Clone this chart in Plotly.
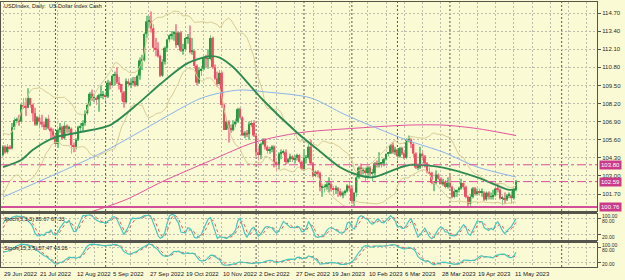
import numpy as np
import pandas as pd
import plotly.graph_objects as go

W, H = 625, 280

# ---------------- data ----------------
date_labels = ["29 Jun 2022", "21 Jul 2022", "12 Aug 2022", "5 Sep 2022", "27 Sep 2022",
               "19 Oct 2022", "10 Nov 2022", "2 Dec 2022", "27 Dec 2022", "19 Jan 2023",
               "10 Feb 2023", "6 Mar 2023", "28 Mar 2023", "19 Apr 2023", "11 May 2023"]
date_label_bars = [0, 16, 32, 48, 64, 80, 96, 112, 128, 144, 160, 176, 192, 208, 224]

# twenty daily bars before the first visible one (needed only by the indicators)
prior_high = [102.7,102.7,102.3,102.5,102.7,102.6,103.3,104.3,105.3,105.8,
              105.6,105.0,104.8,104.8,104.6,104.9,104.6,104.5,104.3,104.6]
prior_low = [101.6,101.7,101.6,101.9,102.1,102.1,102.3,103.1,104.1,104.9,
             104.4,103.4,103.5,104.3,104.0,104.0,103.9,103.9,103.7,103.8]
prior_close = [102.6,101.8,102.1,102.4,102.3,102.5,103.2,104.2,105.1,105.5,
               105.0,103.5,104.7,104.4,104.4,104.2,104.4,104.2,103.9,104.5]

open_ = [104.5,105.1,104.7,105.1,105.0,106.5,107.0,107.0,106.9,108.1,
         108.0,107.9,108.6,108.1,107.5,106.7,107.2,106.9,106.7,106.5,
         107.1,106.4,106.2,105.9,105.3,106.3,106.5,105.7,106.6,106.4,
         106.4,105.2,105.1,105.6,106.5,106.6,106.8,107.5,108.1,108.9,
         108.6,108.6,108.5,108.8,108.8,108.8,108.7,109.7,109.5,110.2,
         110.3,109.7,109.6,109.0,108.3,109.8,109.6,109.7,109.8,109.5,
         110.2,111.3,111.3,113.2,114.1,114.1,113.6,112.2,112.1,111.6,
         110.2,111.2,112.2,112.8,113.1,113.2,113.3,112.4,113.3,112.0,
         112.1,112.9,112.9,111.9,112.0,110.9,109.7,110.6,110.7,111.5,
         111.4,111.4,112.9,110.8,110.0,109.6,110.4,108.1,106.3,106.9,
         106.4,106.3,106.7,106.9,107.8,107.2,105.9,106.1,106.0,106.7,
         106.8,105.9,104.7,104.5,105.3,105.6,105.1,104.8,104.9,105.1,
         104.0,103.8,104.6,104.7,104.7,104.0,104.2,104.4,104.2,104.3,
         104.5,104.0,103.5,104.3,104.3,105.1,103.9,103.0,103.3,103.2,
         102.2,102.2,102.2,102.4,102.4,102.1,102.0,102.1,101.9,101.6,
         101.8,101.9,102.3,102.1,101.2,101.8,102.9,103.6,103.4,103.4,
         103.2,103.6,103.2,103.2,103.9,103.8,103.9,103.9,104.2,104.6,
         104.6,105.2,104.7,104.9,104.4,105.0,104.6,104.3,105.6,105.6,
         105.3,104.6,103.6,103.6,104.6,104.4,103.9,103.3,103.2,102.5,
         102.5,103.1,102.8,102.4,102.6,102.2,102.5,102.2,101.5,101.9,
         102.0,102.1,102.5,102.2,101.5,101.0,101.5,102.1,101.7,101.9,
         101.8,101.8,101.3,101.8,101.5,101.5,101.6,102.1,102.0,101.4,
         101.4,101.3,101.6,101.6,101.4,102.0]
high_ = [105.2,105.2,105.3,105.2,106.8,107.2,107.2,107.4,108.2,108.6,
         108.6,109.3,108.6,108.2,107.9,107.3,107.4,107.4,106.9,107.2,
         107.4,106.5,106.4,106.0,106.4,106.8,106.6,106.9,106.7,106.6,
         106.5,105.4,105.7,106.6,106.8,107.0,107.7,108.2,109.0,109.2,
         108.9,108.7,108.9,109.5,109.1,109.0,109.9,109.8,110.3,110.5,
         110.8,110.1,109.6,109.1,110.0,110.0,110.0,110.1,110.1,110.3,
         111.5,111.7,113.3,114.5,114.5,114.8,113.9,112.9,112.6,111.7,
         111.4,112.3,112.8,113.2,113.4,113.4,113.9,113.4,113.4,112.5,
         113.0,113.2,113.8,112.9,112.0,111.0,110.8,110.9,111.6,111.7,
         112.1,113.1,113.0,111.0,110.5,110.6,110.5,108.2,107.2,107.0,
         106.7,107.0,107.1,107.9,107.9,107.3,106.2,106.3,106.9,107.0,
         107.0,105.9,105.0,105.4,105.7,105.7,105.2,105.1,105.2,105.2,
         104.1,104.7,104.9,104.9,104.9,104.3,104.6,104.5,104.5,104.6,
         104.6,104.1,104.9,104.5,105.4,105.6,104.0,103.4,103.4,103.3,
         102.4,102.4,102.6,102.9,102.6,102.3,102.3,102.2,102.1,101.9,
         102.0,102.4,102.6,102.2,101.8,103.0,103.7,103.9,103.6,103.6,
         103.7,103.7,103.5,104.0,104.1,104.7,104.0,104.3,104.6,104.7,
         105.3,105.4,105.1,105.0,105.1,105.1,104.7,105.7,105.9,105.7,
         105.4,104.7,103.9,105.1,104.8,104.5,104.0,103.6,103.3,102.6,
         103.4,103.2,102.9,102.8,102.7,102.9,103.1,102.3,102.1,102.0,
         102.2,102.8,102.5,102.3,101.6,101.7,102.2,102.2,102.1,102.1,
         102.1,101.9,101.9,101.9,101.8,102.0,102.2,102.4,102.1,101.6,
         101.8,101.7,101.8,101.9,102.1,102.7]
low_ = [104.4,104.6,104.6,104.9,104.9,106.3,106.8,106.6,106.9,107.8,
        107.3,107.9,107.9,106.9,106.6,106.6,106.4,106.5,106.3,106.3,
        106.3,105.6,105.6,105.1,105.0,106.1,105.6,105.6,106.1,106.1,
        104.6,104.7,104.9,105.5,106.2,106.2,106.6,107.4,108.0,108.4,
        108.3,108.1,107.6,108.6,108.5,108.4,108.6,109.2,109.5,109.5,
        109.6,109.2,108.4,107.9,108.2,109.4,109.3,109.5,109.4,109.4,
        109.9,110.6,111.2,112.9,113.6,113.3,111.9,111.6,111.5,110.1,
        110.1,111.0,111.9,112.6,112.8,112.7,112.2,112.3,111.9,111.7,
        111.9,112.5,111.8,111.7,110.7,109.5,109.6,110.2,110.6,110.8,
        110.7,111.3,110.7,109.9,109.4,109.5,107.9,106.3,106.3,105.4,
        106.1,106.2,106.5,106.8,107.1,105.9,105.7,105.8,105.6,106.5,
        105.8,104.4,104.1,104.2,105.2,104.9,104.6,104.6,104.7,103.6,
        103.4,103.5,104.2,104.5,103.8,103.9,104.0,104.0,103.9,104.1,
        103.9,103.4,103.5,103.9,104.2,103.8,102.9,102.9,102.9,101.9,
        101.5,101.8,102.0,101.8,101.9,101.6,101.7,101.5,101.5,101.4,
        101.6,101.8,101.9,101.0,100.8,101.5,102.8,103.0,103.1,102.6,
        102.9,103.0,102.6,102.9,103.6,103.6,103.6,103.7,104.1,104.4,
        104.6,104.6,104.5,104.1,104.3,104.5,104.2,104.2,105.4,105.0,
        104.3,103.5,103.4,103.5,104.1,103.6,103.2,103.1,102.4,101.9,
        102.4,102.7,102.4,102.3,102.1,102.1,102.1,101.4,101.4,101.5,
        101.8,102.0,102.0,101.4,100.8,100.8,101.4,101.6,101.6,101.6,
        101.5,101.2,101.2,101.3,101.3,101.3,101.5,101.8,101.3,100.9,
        101.0,101.2,101.4,101.0,101.3,101.9]
close_ = [105.1,104.7,105.1,105.0,106.5,107.0,107.0,106.9,108.1,108.0,
          107.9,108.6,108.1,107.5,106.7,107.2,106.9,106.7,106.5,107.1,
          106.4,106.2,105.9,105.3,106.3,106.5,105.7,106.6,106.4,106.4,
          105.2,105.1,105.6,106.5,106.6,106.8,107.5,108.1,108.9,108.6,
          108.6,108.5,108.8,108.8,108.8,108.7,109.7,109.5,110.2,110.3,
          109.7,109.6,109.0,108.3,109.8,109.6,109.7,109.8,109.5,110.2,
          111.3,111.3,113.2,114.1,114.1,113.6,112.2,112.1,111.6,110.2,
          111.2,112.2,112.8,113.1,113.2,113.3,112.4,113.3,112.0,112.1,
          112.9,112.9,111.9,112.0,110.9,109.7,110.6,110.7,111.5,111.4,
          111.4,112.9,110.8,110.0,109.6,110.4,108.1,106.3,106.9,106.4,
          106.3,106.7,106.9,107.8,107.2,105.9,106.1,106.0,106.7,106.8,
          105.9,104.7,104.5,105.3,105.6,105.1,104.8,104.9,105.1,104.0,
          103.8,104.6,104.7,104.7,104.0,104.2,104.4,104.2,104.3,104.5,
          104.0,103.5,104.3,104.3,105.1,103.9,103.0,103.3,103.2,102.2,
          102.2,102.2,102.4,102.4,102.1,102.0,102.1,101.9,101.6,101.8,
          101.9,102.3,102.1,101.2,101.8,102.9,103.6,103.4,103.4,103.2,
          103.6,103.2,103.2,103.9,103.8,103.9,103.9,104.2,104.6,104.6,
          105.2,104.7,104.9,104.4,105.0,104.6,104.3,105.6,105.6,105.3,
          104.6,103.6,103.6,104.6,104.4,103.9,103.3,103.2,102.5,102.5,
          103.1,102.8,102.4,102.6,102.2,102.5,102.2,101.5,101.9,102.0,
          102.1,102.5,102.2,101.5,101.0,101.5,102.1,101.7,101.9,101.8,
          101.8,101.3,101.8,101.5,101.5,101.6,102.1,102.0,101.4,101.4,
          101.3,101.6,101.6,101.4,102.0,102.59]

# moving averages (bar index, value)
ma50_bars = [0, 8, 13, 22, 34, 47, 60, 69, 81, 91, 95, 101, 114, 129, 138, 148, 155, 162, 174, 179, 193, 208, 222, 225]
ma50_vals = [103.64, 104.14, 104.86, 105.72, 106.15, 106.65, 108.3, 109.6, 111.1, 111.6, 111.5, 110.8,
             108.45, 106.1, 104.9, 103.6, 103.1, 102.9, 103.6, 103.8, 103.6, 102.9, 102.0, 102.05]
ma100_bars = [0, 43, 86, 95, 104, 116, 135, 150, 177, 193, 208, 225]
ma100_vals = [101.48, 104.64, 108.52, 108.95, 109.17, 109.02, 108.6, 107.4, 105.58, 104.71, 103.64, 102.92]
ma200_bars = [36, 42, 54, 70, 91, 110, 130, 152, 178, 193, 208, 225]
ma200_vals = [100.3, 100.6, 101.3, 102.6, 104.1, 105.4, 106.1, 106.4, 106.65, 106.65, 106.4, 105.9]

y_ticks = [101.70, 103.00, 104.30, 105.60, 106.90, 108.20, 109.50, 110.80, 112.10, 113.40, 114.70]
level_prices = [103.80, 102.59]
support_price = 100.76
stoch1_text = "Stoch(5,3,3) 85.67 67.33"
stoch2_text = "Stoch(15,3,5) 57.47 43.26"
title_text = "USDIndex, Daily:  US Dollar Index Cash"
month_sep_bars = [23, 45, 111, 132, 153, 173, 196, 245]

# ---------------- styling ----------------
BG = "#FAFAD4"
GRID = "#BDBDAE"
AXC = "#55554A"
BULL = "#2A9A40"
BEAR = "#EE4E62"
BULL_W = "#7CC987"
BEAR_W = "#F2909C"
PINK = "#DC4C9C"
FONT = "Liberation Sans"
GDASH = "2px,2px"

o = np.array(open_); h = np.array(high_); l = np.array(low_); c = np.array(close_)
n = len(c)
idx = np.arange(n)
bull = c >= o
npre = len(prior_close)
h_all = pd.Series(prior_high + high_)
l_all = pd.Series(prior_low + low_)
c_all = pd.Series(prior_close + close_)

def py(px):
    return 1 - px / H

XD = [1 / W, 597 / W]
XR = [-0.88, 260.5]

fig = go.Figure()

# Bollinger bands (20, 2) from the closes
mid = c_all.rolling(20, min_periods=1).mean()
sd = c_all.rolling(20, min_periods=1).std(ddof=0)
for band in (mid + 2 * sd, mid - 2 * sd):
    fig.add_trace(go.Scatter(x=idx, y=band.values[npre:], mode="lines", line=dict(color="#D8CC96", width=1),
                             hoverinfo="skip", xaxis="x", yaxis="y"))

# candles
fig.add_trace(go.Bar(x=idx, y=h - l, base=l, width=0.32,
                     marker=dict(color=[BULL_W if b else BEAR_W for b in bull], line=dict(width=0)),
                     xaxis="x", yaxis="y", hoverinfo="skip"))
fig.add_trace(go.Bar(x=idx, y=np.maximum(np.abs(c - o), 0.05), base=np.minimum(o, c), width=0.8,
                     marker=dict(color=[BULL if b else BEAR for b in bull], line=dict(width=0)),
                     xaxis="x", yaxis="y", hoverinfo="skip"))

# moving averages
fig.add_trace(go.Scatter(x=ma200_bars, y=ma200_vals, mode="lines",
                         line=dict(color="#E0559E", width=1, shape="spline", smoothing=0.8),
                         xaxis="x", yaxis="y", hoverinfo="skip"))
fig.add_trace(go.Scatter(x=ma100_bars, y=ma100_vals, mode="lines",
                         line=dict(color="#8DB4EA", width=1, shape="spline", smoothing=0.8),
                         xaxis="x", yaxis="y", hoverinfo="skip"))
fig.add_trace(go.Scatter(x=ma50_bars, y=ma50_vals, mode="lines",
                         line=dict(color="#2E8B50", width=1.9, shape="spline", smoothing=0.8),
                         xaxis="x", yaxis="y", hoverinfo="skip"))

# stochastics
def stoch(kp, dp, slow):
    hh = h_all.rolling(kp, min_periods=1).max()
    ll = l_all.rolling(kp, min_periods=1).min()
    num = (c_all - ll).rolling(slow, min_periods=1).sum()
    den = (hh - ll).rolling(slow, min_periods=1).sum()
    k = 100 * num / den
    d = k.rolling(dp, min_periods=1).mean()
    return k.values[npre:], d.values[npre:]

for (kp, dp, sl), ya in (((5, 3, 3), "y2"), ((15, 3, 5), "y3")):
    k, d = stoch(kp, dp, sl)
    xa = "x2" if ya == "y2" else "x3"
    fig.add_trace(go.Scatter(x=idx, y=d, mode="lines", line=dict(color="#F05050", width=1, dash="dot"),
                             xaxis=xa, yaxis=ya, hoverinfo="skip"))
    fig.add_trace(go.Scatter(x=idx, y=k, mode="lines", line=dict(color="#45C8BC", width=1.2),
                             xaxis=xa, yaxis=ya, hoverinfo="skip"))

xcommon = dict(domain=XD, range=XR, tickvals=list(range(0, 264, 8)), showticklabels=False,
               showgrid=True, gridcolor=GRID, griddash=GDASH, gridwidth=1, zeroline=False,
               showline=True, linecolor=AXC, linewidth=1, mirror=True, ticks="", fixedrange=True)

layout = dict(
    width=W, height=H, margin=dict(l=0, r=0, t=0, b=0),
    paper_bgcolor=BG, plot_bgcolor=BG, showlegend=False, barmode="overlay",
    xaxis=dict(**xcommon, anchor="y"),
    xaxis2=dict(**xcommon, anchor="y2", matches="x"),
    xaxis3=dict(**xcommon, anchor="y3", matches="x"),
    yaxis=dict(domain=[py(211), py(2)], range=[100.48, 115.49], side="right", anchor="x",
               tickvals=y_ticks, ticktext=[f"{v:.2f}" for v in y_ticks],
               tickfont=dict(size=6, color="#2A2A2A", family=FONT),
               ticks="outside", ticklen=3, tickcolor=AXC,
               showgrid=True, gridcolor=GRID, griddash=GDASH, gridwidth=1, zeroline=False,
               showline=True, linecolor=AXC, linewidth=1, mirror=True),
    yaxis2=dict(domain=[py(240), py(213.5)], range=[0, 100], side="right", anchor="x2",
                tickvals=[20, 80], showticklabels=False, ticks="outside", ticklen=3, tickcolor=AXC,
                showgrid=True, gridcolor=GRID, griddash=GDASH, zeroline=False,
                showline=True, linecolor=AXC, mirror=True),
    yaxis3=dict(domain=[py(267), py(242.5)], range=[0, 100], side="right", anchor="x3",
                tickvals=[20, 80], showticklabels=False, ticks="outside", ticklen=3, tickcolor=AXC,
                showgrid=True, gridcolor=GRID, griddash=GDASH, zeroline=False,
                showline=True, linecolor=AXC, mirror=True),
)
fig.update_layout(**layout)

shapes = []
# month separators across all panels
for b in month_sep_bars:
    shapes.append(dict(type="line", xref="x", yref="paper", x0=b, x1=b, y0=py(267), y1=py(2),
                       line=dict(color="#5A5A50", width=1, dash=GDASH), layer="below"))
# panel separators
for top, bot in ((211, 213.5), (240, 242.5)):
    shapes.append(dict(type="rect", xref="paper", yref="paper", x0=0, x1=597 / W, y0=py(bot), y1=py(top),
                       fillcolor="#55554B", line=dict(width=0)))
# price levels
for p in level_prices:
    shapes.append(dict(type="line", xref="paper", yref="y", x0=1 / W, x1=597 / W, y0=p, y1=p,
                       line=dict(color=PINK, width=1, dash="dashdot")))
shapes.append(dict(type="line", xref="paper", yref="y", x0=1 / W, x1=597 / W, y0=support_price, y1=support_price,
                   line=dict(color="#D0509A", width=2)))
fig.update_layout(shapes=shapes)

ann = []
ann.append(dict(text=title_text, xref="paper", yref="paper", x=2 / W, y=py(1.5), xanchor="left", yanchor="top",
                showarrow=False, font=dict(size=5.5, color="#202020", family=FONT)))
for lab, b in zip(date_labels, date_label_bars):
    ann.append(dict(text=lab, xref="x", yref="paper", x=b, y=py(269), xanchor="left", yanchor="top",
                    xshift=-1, showarrow=False, font=dict(size=6, color="#202020", family=FONT)))
for p in level_prices + [support_price]:
    ann.append(dict(text=f"{p:.2f}", xref="paper", yref="y", x=599 / W, y=p, xanchor="left", yanchor="middle",
                    showarrow=False, bgcolor="#C93A8A", borderpad=1,
                    font=dict(size=6, color="white", family=FONT)))
ann.append(dict(text=stoch1_text, xref="paper", yref="paper", x=2 / W, y=py(214), xanchor="left", yanchor="top",
                showarrow=False, font=dict(size=5.5, color="#202020", family=FONT)))
ann.append(dict(text=stoch2_text, xref="paper", yref="paper", x=2 / W, y=py(243), xanchor="left", yanchor="top",
                showarrow=False, font=dict(size=5.5, color="#202020", family=FONT)))
# stochastic scale labels (top: 100/80 levels, bottom: 20 level)
for ytop, ymid, ybot in ((215.5, 221, 236.5), (244.5, 250, 263.5)):
    ann.append(dict(text="100.00", xref="paper", yref="paper", x=600 / W, y=py(ytop), xanchor="left",
                    yanchor="middle", showarrow=False, font=dict(size=5, color="#2A2A2A", family=FONT)))
    ann.append(dict(text="80.00", xref="paper", yref="paper", x=600 / W, y=py(ymid), xanchor="left",
                    yanchor="middle", showarrow=False, font=dict(size=5, color="#2A2A2A", family=FONT)))
    ann.append(dict(text="20.00", xref="paper", yref="paper", x=600 / W, y=py(ybot), xanchor="left",
                    yanchor="middle", showarrow=False, font=dict(size=5, color="#2A2A2A", family=FONT)))
fig.update_layout(annotations=ann)

fig.write_html("out.html")
